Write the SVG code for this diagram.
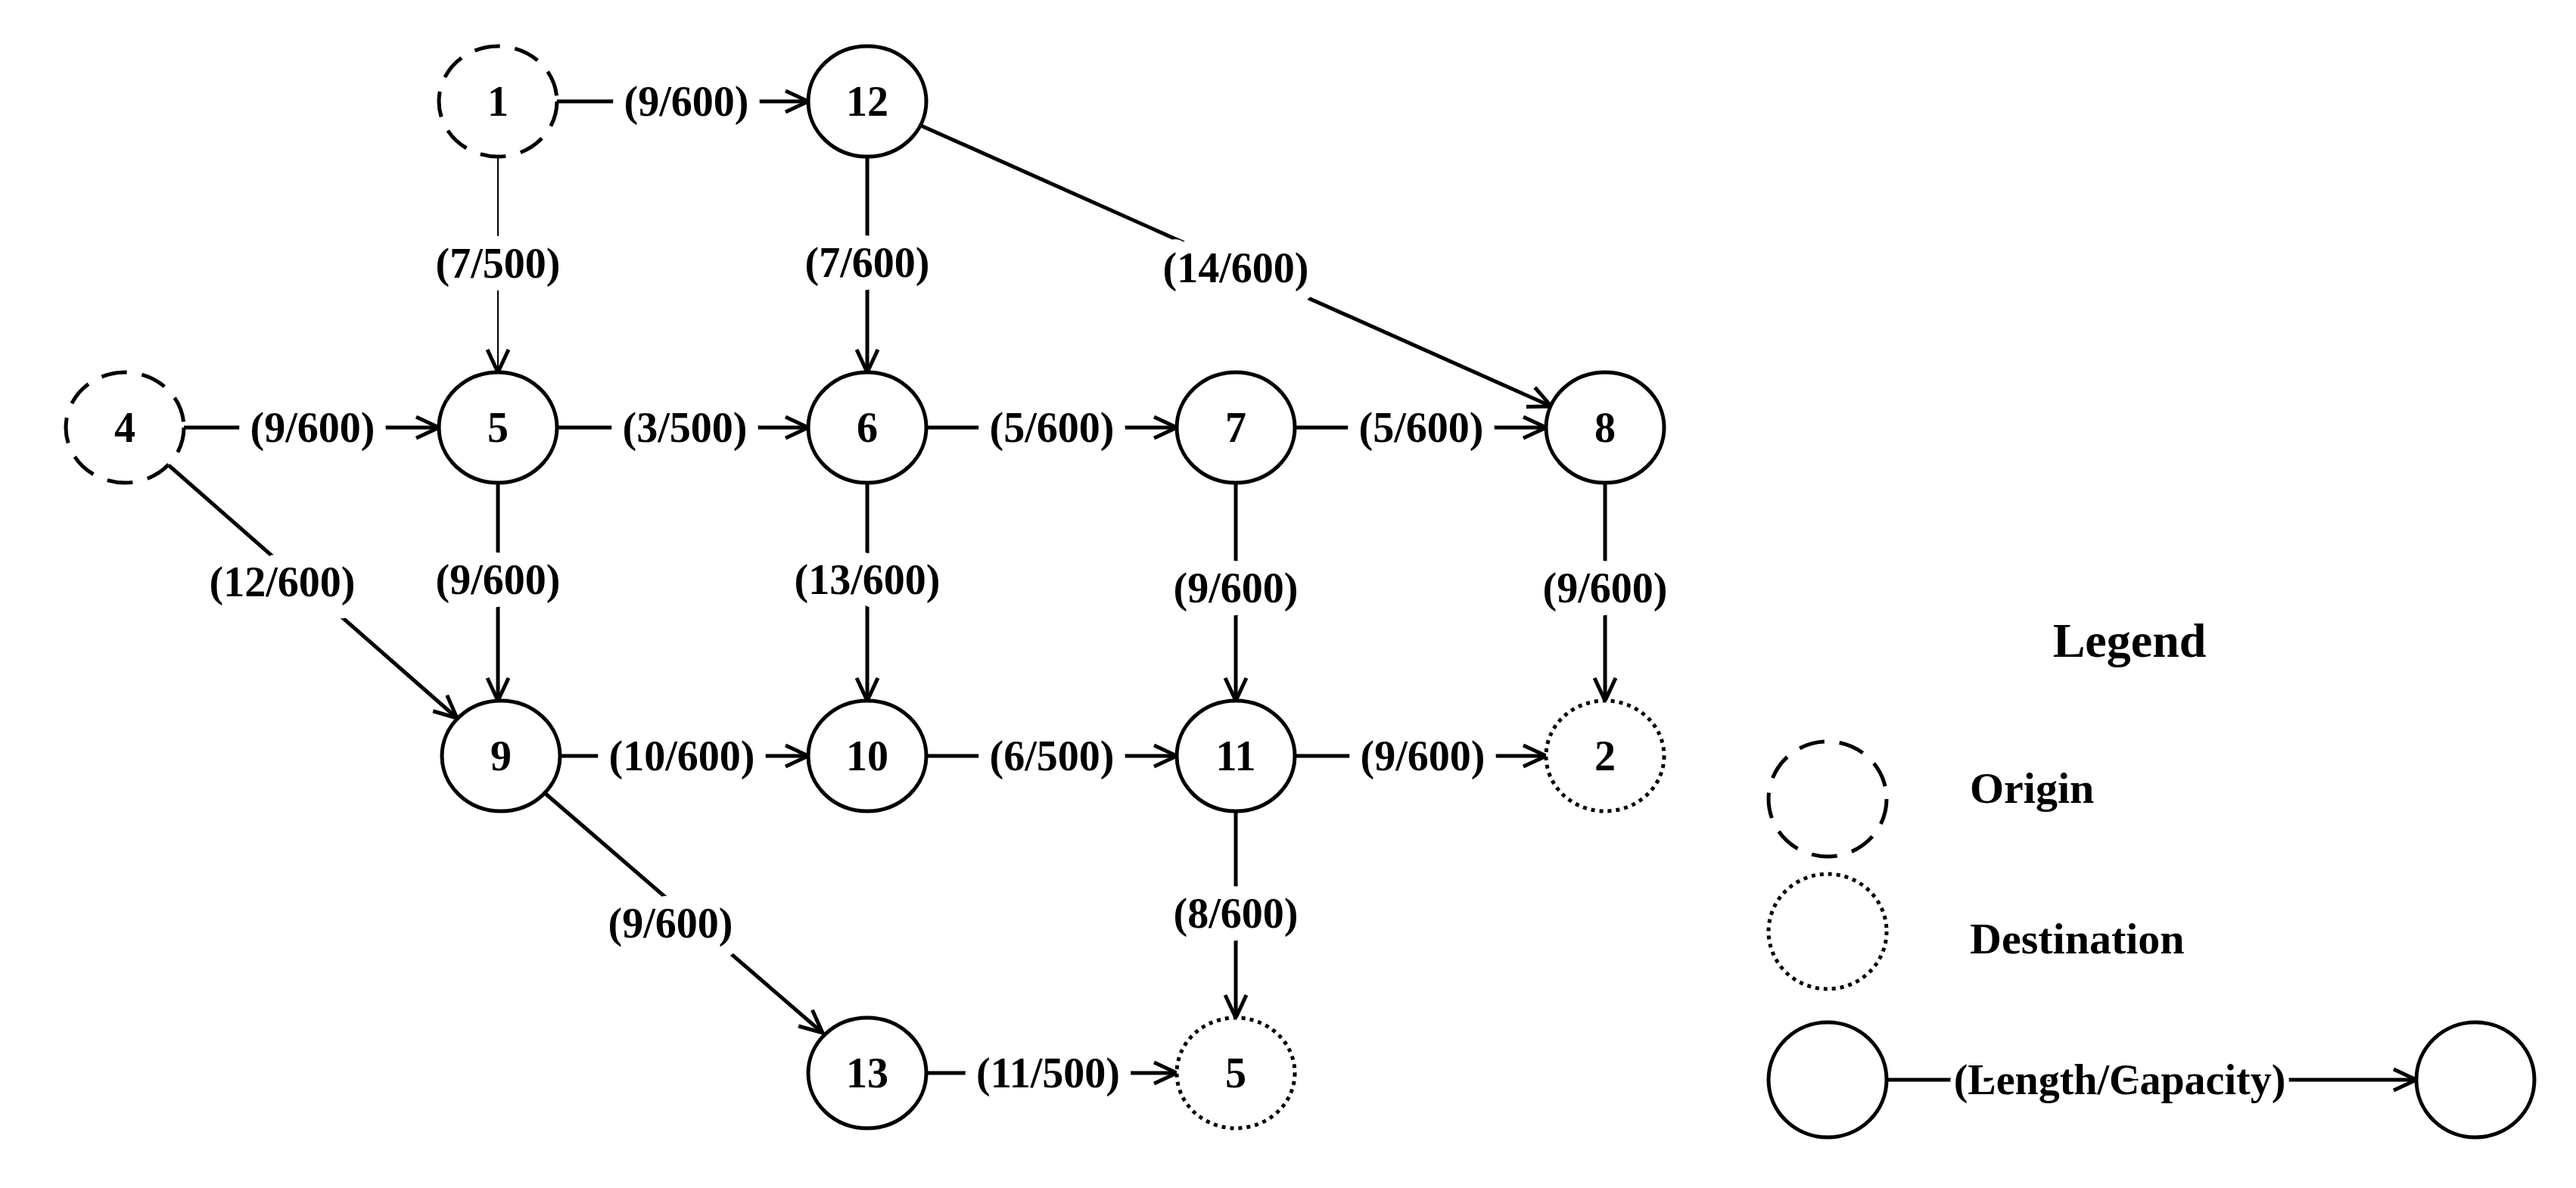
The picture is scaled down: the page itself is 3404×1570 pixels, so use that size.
<svg xmlns="http://www.w3.org/2000/svg" width="3404" height="1570" viewBox="0 0 3404 1570">
<style>
.n{fill:#fff;stroke:#000;stroke-width:5}
.o{stroke-dasharray:34 20}
.d{stroke-dasharray:5 6}
text{font-family:"Liberation Serif",serif;font-weight:bold;fill:#000}
.t{font-size:56px;text-anchor:middle;dominant-baseline:central}
.lab{font-size:56px;text-anchor:middle;dominant-baseline:central;paint-order:stroke;stroke:#fff;stroke-width:34px;stroke-linejoin:round}
.e{stroke:#000;stroke-width:5;fill:none;marker-end:url(#a)}
</style>
<defs>
<marker id="a" markerUnits="userSpaceOnUse" markerWidth="40" markerHeight="40" refX="34" refY="16" orient="auto" viewBox="0 0 40 32">
<path d="M4,2 L34,16 L4,30" fill="none" stroke="#000" stroke-width="5"/>
</marker>
</defs>
<rect width="3404" height="1570" fill="#fff"/>
<g id="edges">
<line class="e" x1="736" y1="134" x2="1068" y2="134"/>
<line class="e" x1="658" y1="207" x2="658" y2="492" style="stroke-width:2"/>
<line class="e" x1="1146" y1="207" x2="1146" y2="492"/>
<line class="e" x1="1217" y1="166" x2="2050" y2="537"/>
<line class="e" x1="243" y1="565" x2="580" y2="565"/>
<line class="e" x1="736" y1="565" x2="1068" y2="565"/>
<line class="e" x1="1224" y1="565" x2="1555" y2="565"/>
<line class="e" x1="1711" y1="565" x2="2043" y2="565"/>
<line class="e" x1="223" y1="615" x2="604" y2="949"/>
<line class="e" x1="658" y1="638" x2="658" y2="926"/>
<line class="e" x1="1146" y1="638" x2="1146" y2="926"/>
<line class="e" x1="1633" y1="638" x2="1633" y2="926"/>
<line class="e" x1="2121" y1="638" x2="2121" y2="926"/>
<line class="e" x1="740" y1="999" x2="1068" y2="999"/>
<line class="e" x1="1224" y1="999" x2="1555" y2="999"/>
<line class="e" x1="1711" y1="999" x2="2043" y2="999"/>
<line class="e" x1="721" y1="1049" x2="1087" y2="1365"/>
<line class="e" x1="1633" y1="1072" x2="1633" y2="1345"/>
<line class="e" x1="1224" y1="1418" x2="1555" y2="1418"/>
<line class="e" x1="2493" y1="1427" x2="3193" y2="1427"/>
<text class="lab" x="907" y="134">(9/600)</text>
<text class="lab" x="658" y="348">(7/500)</text>
<text class="lab" x="1146" y="347">(7/600)</text>
<text class="lab" x="1633" y="354">(14/600)</text>
<text class="lab" x="413" y="565">(9/600)</text>
<text class="lab" x="905" y="565">(3/500)</text>
<text class="lab" x="1390" y="565">(5/600)</text>
<text class="lab" x="1878" y="565">(5/600)</text>
<text class="lab" x="373" y="769">(12/600)</text>
<text class="lab" x="658" y="766">(9/600)</text>
<text class="lab" x="1146" y="766">(13/600)</text>
<text class="lab" x="1633" y="777">(9/600)</text>
<text class="lab" x="2121" y="777">(9/600)</text>
<text class="lab" x="901" y="999">(10/600)</text>
<text class="lab" x="1390" y="999">(6/500)</text>
<text class="lab" x="1880" y="999">(9/600)</text>
<text class="lab" x="886" y="1220">(9/600)</text>
<text class="lab" x="1633" y="1207">(8/600)</text>
<text class="lab" x="1385" y="1418">(11/500)</text>
<text class="lab" x="2801" y="1427" style="stroke-width:14px">(Length/Capacity)</text>
</g>
<g id="n1"><ellipse class="n o" cx="658" cy="134" rx="78" ry="73"/><text class="t" x="658" y="134">1</text></g>
<g id="n12"><ellipse class="n" cx="1146" cy="134" rx="78" ry="73"/><text class="t" x="1146" y="134">12</text></g>
<g id="n4"><ellipse class="n o" cx="165" cy="565" rx="78" ry="73"/><text class="t" x="165" y="565">4</text></g>
<g id="n5"><ellipse class="n" cx="658" cy="565" rx="78" ry="73"/><text class="t" x="658" y="565">5</text></g>
<g id="n6"><ellipse class="n" cx="1146" cy="565" rx="78" ry="73"/><text class="t" x="1146" y="565">6</text></g>
<g id="n7"><ellipse class="n" cx="1633" cy="565" rx="78" ry="73"/><text class="t" x="1633" y="565">7</text></g>
<g id="n8"><ellipse class="n" cx="2121" cy="565" rx="78" ry="73"/><text class="t" x="2121" y="565">8</text></g>
<g id="n9"><ellipse class="n" cx="662" cy="999" rx="78" ry="73"/><text class="t" x="662" y="999">9</text></g>
<g id="n10"><ellipse class="n" cx="1146" cy="999" rx="78" ry="73"/><text class="t" x="1146" y="999">10</text></g>
<g id="n11"><ellipse class="n" cx="1633" cy="999" rx="78" ry="73"/><text class="t" x="1633" y="999">11</text></g>
<g id="n2"><ellipse class="n d" cx="2121" cy="999" rx="78" ry="73"/><text class="t" x="2121" y="999">2</text></g>
<g id="n13"><ellipse class="n" cx="1146" cy="1418" rx="78" ry="73"/><text class="t" x="1146" y="1418">13</text></g>
<g id="n5d"><ellipse class="n d" cx="1633" cy="1418" rx="78" ry="73"/><text class="t" x="1633" y="1418">5</text></g>
<g id="legend">
<text x="2814" y="868" style="font-size:64px;text-anchor:middle">Legend</text>
<ellipse class="n o" cx="2415" cy="1056" rx="78" ry="76"/>
<text x="2603" y="1061" style="font-size:58px">Origin</text>
<ellipse class="n d" cx="2415" cy="1231" rx="78" ry="76"/>
<text x="2603" y="1260" style="font-size:58px">Destination</text>
<ellipse class="n" cx="2415" cy="1427" rx="78" ry="76"/>
<ellipse class="n" cx="3271" cy="1427" rx="78" ry="76"/>
</g>
</svg>
